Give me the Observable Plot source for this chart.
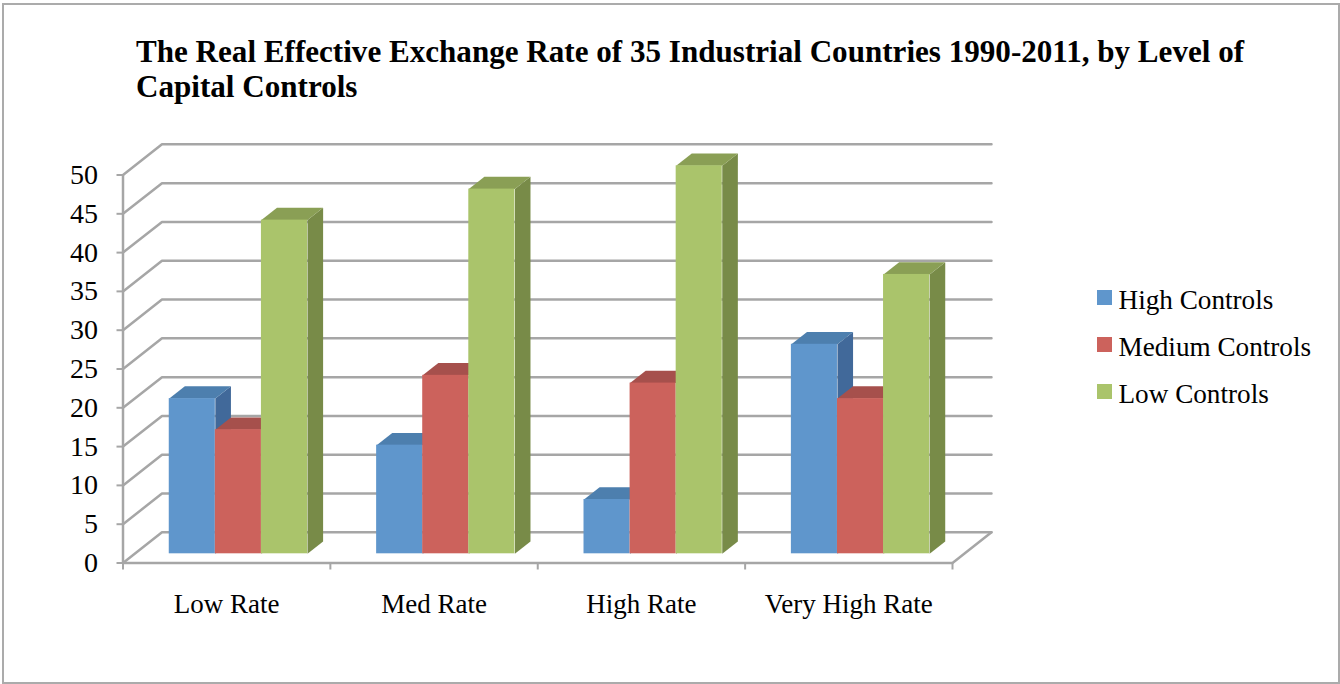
<!DOCTYPE html>
<html>
<head>
<meta charset="utf-8">
<script src="https://cdn.jsdelivr.net/npm/d3@7"></script>
<script src="https://cdn.jsdelivr.net/npm/@observablehq/plot@0.6"></script>
<style>
  html, body { margin: 0; padding: 0; background: #fff; overflow: hidden; }
  #chart { position: relative; width: 1340px; height: 684px; font-family: "Liberation Serif", serif; color: #000; }
  #frame { position: absolute; left: 2px; top: 3px; width: 1334px; height: 677px; border: 2px solid #ababab; box-sizing: content-box; }
  #title { position: absolute; left: 136px; top: 34px; width: 1180px; margin: 0; font-size: 31.1px; line-height: 35px; font-weight: bold; }
  #legend { position: absolute; left: 1097px; top: 277px; font-size: 27.2px; }
  .entry { height: 47px; line-height: 46px; white-space: nowrap; position: relative; padding-left: 21.5px; }
  .swatch { position: absolute; left: 0; top: 13px; width: 15px; height: 15px; }
  svg { position: absolute; left: 0; top: 0; }
</style>
</head>
<body>
<div id="chart">
  <div id="frame"></div>
  <h1 id="title"></h1>
  <div id="legend"></div>
</div>
<script>
const titleText = "The Real Effective Exchange Rate of 35 Industrial Countries 1990-2011, by Level of Capital Controls";
const rates = ["Low Rate", "Med Rate", "High Rate", "Very High Rate"];
const controls = ["High Controls", "Medium Controls", "Low Controls"];
const highControls = [20, 14, 7, 27];
const mediumControls = [16, 23, 22, 20];
const lowControls = [43, 47, 50, 36];
const valueTicks = [0, 5, 10, 15, 20, 25, 30, 35, 40, 45, 50];
const frontColors = ["#5f96cc", "#cc625c", "#aac46b"];
const topColors = ["#4d7fae", "#a6504c", "#8a9f55"];
const sideColors = ["#41699a", "#8f4643", "#788b48"];
const gridColor = "#a6a6a6";
const serif = "Liberation Serif";

// Oblique projection: depth 0..1 shifts a point right and up in data units.
const depthX = 0.188, depthY = 3.95;
const project = (u, v, d) => ({x: u + d * depthX, y: v + d * depthY});
const barFront = 0.3, barBack = 0.7;
const barWidth = 1 / 4.5, groupGap = 0.75 * barWidth;

const seriesValues = [highControls, mediumControls, lowControls];
const bars = seriesValues.flatMap((values, s) => values.map((value, g) => ({
  s, value, id: `${g}-${s}`, x0: g + groupGap + s * barWidth, x1: g + groupGap + (s + 1) * barWidth
})));

// Faces are listed per bar so later series overlap the sides of earlier ones.
const polygon = (id, fill, corners) => corners.map(([u, v, d]) => ({id, fill, ...project(u, v, d)}));
const sideFace = (b) => polygon(`side${b.id}`, sideColors[b.s], [
  [b.x1, 0, barFront], [b.x1, 0, barBack], [b.x1, b.value, barBack], [b.x1, b.value, barFront]
]);
const topFace = (b) => polygon(`top${b.id}`, topColors[b.s], [
  [b.x0, b.value, barFront], [b.x0, b.value, barBack], [b.x1, b.value, barBack], [b.x1, b.value, barFront]
]);

const wallLines = valueTicks.flatMap((v) => [
  {id: v, ...project(0, v, 0)}, {id: v, ...project(0, v, 1)}, {id: v, ...project(4, v, 1)}
]);
const floorEdge = [project(4, 0, 1), project(4, 0, 0)];

const barMarks = bars.flatMap((b) => [
  Plot.line(sideFace(b), {x: "x", y: "y", fill: sideColors[b.s], stroke: "none"}),
  Plot.line(topFace(b), {x: "x", y: "y", fill: topColors[b.s], stroke: "none"}),
  Plot.rect([b], {
    x1: (d) => project(d.x0, 0, barFront).x,
    x2: (d) => project(d.x1, 0, barFront).x,
    y1: () => project(0, 0, barFront).y,
    y2: (d) => project(0, d.value, barFront).y,
    fill: frontColors[b.s]
  })
]);

const plot = Plot.plot({
  width: 1340, height: 684,
  marginLeft: 122.5, marginRight: 388, marginTop: 174.5, marginBottom: 121.5,
  style: {background: "transparent", overflow: "visible"},
  x: {domain: [0, 4], label: null},
  y: {domain: [0, 50], label: null},
  marks: [
    Plot.line(wallLines, {x: "x", y: "y", z: "id", stroke: gridColor, strokeWidth: 2.5}),
    Plot.line(floorEdge, {x: "x", y: "y", stroke: gridColor, strokeWidth: 2.5}),
    ...barMarks,
    Plot.ruleX([0], {y1: 0, y2: 50, stroke: gridColor, strokeWidth: 2.5}),
    Plot.ruleY([0], {x1: 0, x2: 4, stroke: gridColor, strokeWidth: 2.5}),
    Plot.axisY({ticks: valueTicks, tickSize: 6, tickPadding: 19, stroke: gridColor, strokeWidth: 2, fill: "#000",
      fontSize: 28, fontFamily: serif, label: null}),
    Plot.axisX({ticks: [0, 1, 2, 3, 4], tickSize: 7, tickFormat: () => "", stroke: gridColor, strokeWidth: 2, label: null}),
    Plot.axisX({ticks: rates.map((_, i) => i + 0.5), tickSize: 0, tickPadding: 31, tickFormat: (d) => rates[d - 0.5],
      fill: "#000", fontSize: 27, fontFamily: serif, label: null})
  ]
});
document.getElementById("chart").appendChild(plot);

document.getElementById("title").textContent = titleText;
const legend = d3.select("#legend");
controls.forEach((name, i) => {
  const entry = legend.append("div").attr("class", "entry");
  entry.append("span").attr("class", "swatch").style("background", frontColors[i]);
  entry.append("span").text(name);
});
</script>
</body>
</html>
